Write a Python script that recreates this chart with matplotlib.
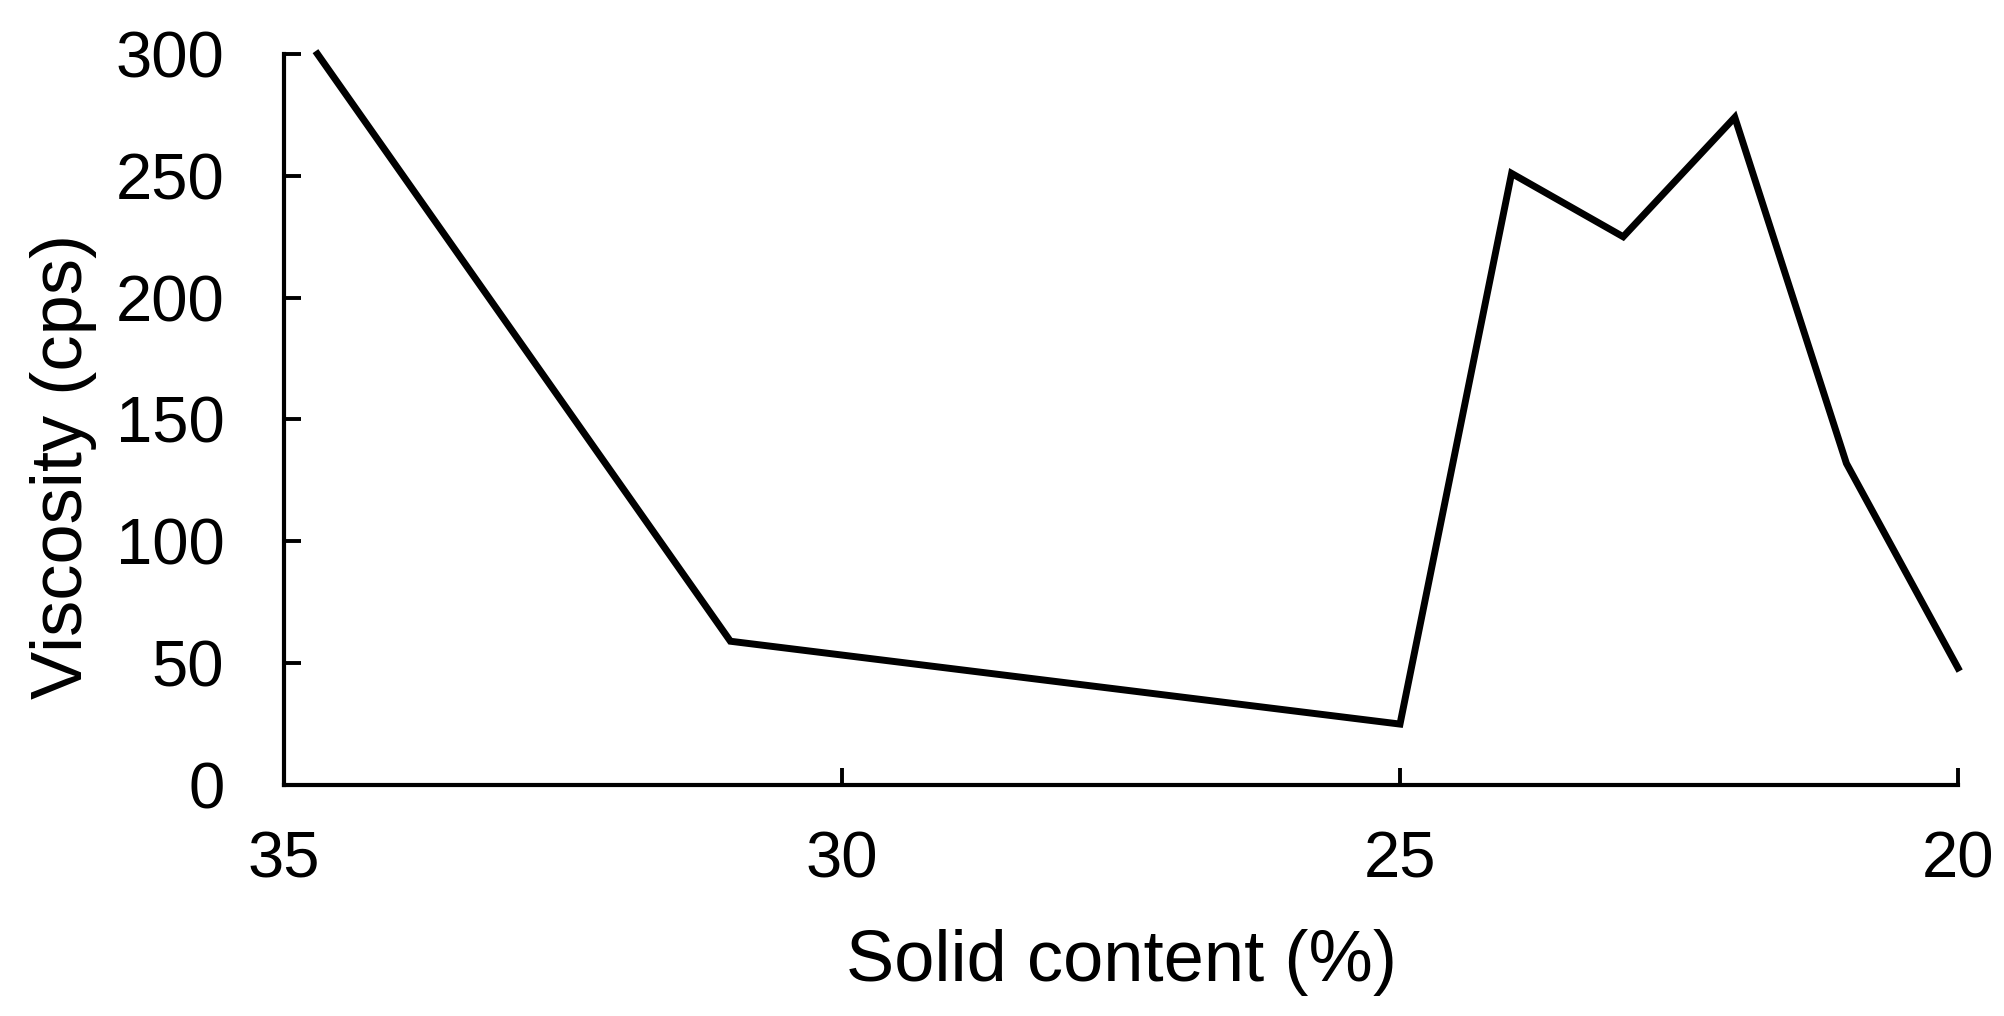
import matplotlib
matplotlib.use("Agg")
import matplotlib.pyplot as plt

solid_content = [34.7, 31, 25, 24, 23, 22, 21, 20]
viscosity = [300, 59, 25, 251, 225, 274, 132, 48]
x_ticks = [35, 30, 25, 20]
y_ticks = [0, 50, 100, 150, 200, 250, 300]

plt.rcParams['font.family'] = ['Liberation Sans', 'DejaVu Sans']

fig = plt.figure(figsize=(20.04, 10.16), dpi=100)
ax = fig.add_axes([284 / 2004, 1 - 785 / 1016, (1958 - 284) / 2004, (785 - 54) / 1016])

ax.plot(solid_content, viscosity, color='black', linewidth=5.0,
        solid_joinstyle='miter', clip_on=False)

ax.set_xlim(35, 20)
ax.set_ylim(0, 300)
ax.set_xticks(x_ticks)
ax.set_yticks(y_ticks)

for s in ['top', 'right']:
    ax.spines[s].set_visible(False)
for s in ['left', 'bottom']:
    ax.spines[s].set_linewidth(3.0)

ax.tick_params(axis='both', direction='in', length=12, width=2.8,
               labelsize=47, colors='black')
ax.tick_params(axis='y', pad=43)
ax.tick_params(axis='x', pad=33)

ax.set_xlabel('Solid content (%)', fontsize=52)
ax.set_ylabel('Viscosity (cps)', fontsize=52)
ax.xaxis.set_label_coords(0.5, -0.197)
ax.yaxis.set_label_coords(-0.112, 0.436)

fig.savefig('out.png', dpi=100)
